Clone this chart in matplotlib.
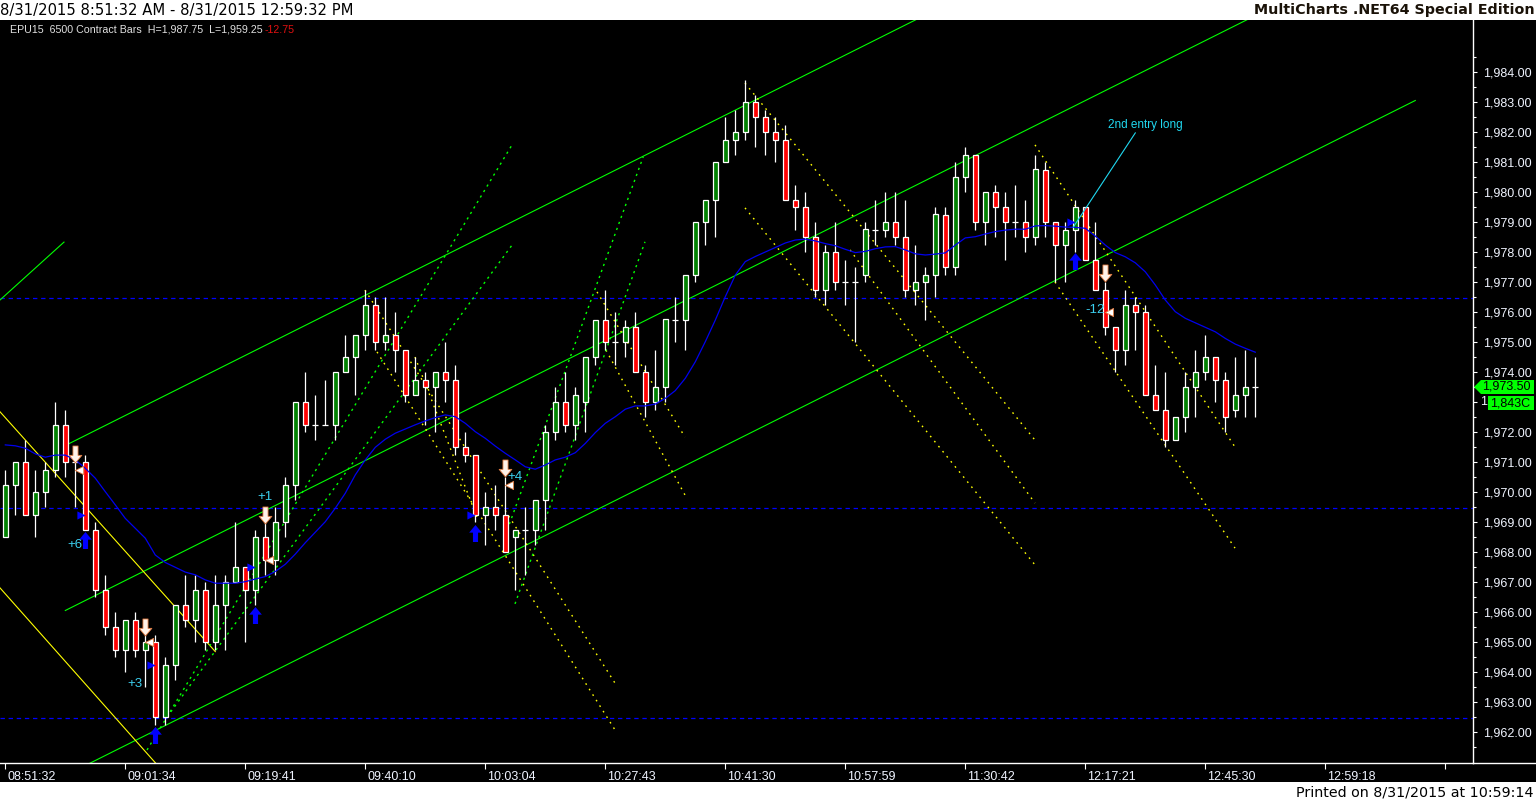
import numpy as np
import matplotlib.pyplot as plt
from matplotlib.path import Path
from matplotlib.patches import Rectangle, Polygon
from matplotlib.lines import Line2D
import matplotlib.transforms as mtransforms

# ---- bar data (EPU15, 6500 contract bars) ----
opens = [1968.5, 1970.25, 1971.0, 1969.25, 1970.0, 1970.75, 1972.25, 1971.0, 1971.0, 1968.75,
         1966.75, 1965.5, 1964.75, 1965.75, 1964.75, 1965.0, 1962.5, 1964.25, 1966.25, 1965.75,
         1966.75, 1965.0, 1966.25, 1967.0, 1967.5, 1966.75, 1968.5, 1967.75, 1969.0, 1970.25,
         1973.0, 1972.25, 1972.25, 1972.25, 1974.0, 1974.5, 1975.25, 1976.25, 1975.0, 1975.25,
         1974.75, 1973.25, 1973.75, 1973.5, 1974.0, 1973.75, 1971.5, 1971.25, 1969.25, 1969.5,
         1969.25, 1968.5, 1968.75, 1968.75, 1969.75, 1972.0, 1973.0, 1972.25, 1973.0, 1974.5,
         1975.75, 1975.0, 1975.0, 1975.5, 1974.0, 1973.0, 1973.5, 1975.75, 1975.75, 1977.25,
         1979.0, 1979.75, 1981.0, 1981.75, 1982.0, 1983.0, 1982.5, 1982.0, 1981.75, 1979.75,
         1979.5, 1978.5, 1976.75, 1978.0, 1977.0, 1977.0, 1977.25, 1978.75, 1978.75, 1979.0,
         1978.5, 1976.75, 1977.0, 1977.25, 1979.25, 1977.5, 1980.5, 1981.25, 1979.0, 1980.0,
         1979.5, 1979.0, 1979.0, 1978.5, 1980.75, 1979.0, 1978.25, 1978.75, 1979.5, 1977.75,
         1976.75, 1975.5, 1974.75, 1976.25, 1976.0, 1973.25, 1972.75, 1971.75, 1972.5, 1973.5,
         1974.0, 1974.5, 1973.75, 1972.75, 1973.25, 1973.5]
highs = [1970.75, 1971.0, 1971.75, 1970.75, 1971.0, 1973.0, 1972.75, 1971.0, 1971.25, 1969.0,
         1967.25, 1966.0, 1965.75, 1966.0, 1965.25, 1965.25, 1964.5, 1966.25, 1967.25, 1967.25,
         1967.0, 1967.25, 1967.25, 1969.0, 1967.5, 1968.75, 1969.0, 1969.5, 1970.5, 1973.0,
         1974.0, 1973.25, 1973.75, 1974.0, 1975.25, 1975.25, 1976.75, 1976.5, 1976.5, 1976.0,
         1974.75, 1974.5, 1974.0, 1974.0, 1975.0, 1974.25, 1972.0, 1971.25, 1970.0, 1970.25,
         1970.5, 1968.75, 1969.5, 1969.75, 1972.25, 1973.5, 1974.0, 1973.5, 1974.5, 1975.75,
         1976.75, 1976.0, 1975.75, 1976.0, 1974.25, 1974.75, 1975.75, 1976.5, 1977.25, 1979.0,
         1979.75, 1981.0, 1982.5, 1982.75, 1983.75, 1983.25, 1982.75, 1982.5, 1982.25, 1980.25,
         1980.0, 1979.0, 1978.25, 1979.0, 1977.75, 1977.5, 1979.0, 1979.75, 1980.0, 1980.0,
         1979.75, 1978.25, 1977.5, 1979.5, 1979.5, 1981.0, 1981.5, 1981.25, 1980.0, 1980.25,
         1980.0, 1980.25, 1979.75, 1981.25, 1981.0, 1979.0, 1979.0, 1979.75, 1979.5, 1979.0,
         1977.0, 1975.5, 1976.75, 1976.5, 1976.25, 1974.25, 1974.0, 1972.5, 1974.0, 1974.75,
         1975.25, 1974.5, 1974.0, 1974.5, 1974.75, 1974.5]
lows = [1968.5, 1969.25, 1969.25, 1968.5, 1969.5, 1970.5, 1970.5, 1969.5, 1968.75, 1966.5,
        1965.25, 1964.5, 1964.0, 1964.5, 1963.5, 1962.25, 1962.25, 1963.75, 1965.5, 1965.0,
        1964.75, 1964.75, 1964.75, 1967.0, 1965.0, 1966.25, 1967.25, 1967.25, 1968.5, 1969.75,
        1972.0, 1971.75, 1972.25, 1971.75, 1974.0, 1973.25, 1974.75, 1974.75, 1974.75, 1974.0,
        1973.0, 1973.25, 1972.25, 1972.0, 1973.0, 1971.25, 1971.0, 1969.0, 1968.25, 1968.75,
        1968.0, 1966.75, 1967.25, 1968.25, 1968.75, 1971.75, 1972.0, 1971.75, 1972.0, 1974.25,
        1974.75, 1974.25, 1974.5, 1974.0, 1972.5, 1972.75, 1973.0, 1975.0, 1974.75, 1977.0,
        1978.25, 1978.5, 1981.0, 1981.25, 1981.75, 1981.5, 1981.25, 1981.0, 1979.75, 1978.75,
        1978.0, 1976.5, 1976.25, 1976.75, 1976.25, 1975.0, 1977.0, 1978.25, 1978.5, 1978.25,
        1976.5, 1976.25, 1975.75, 1976.5, 1977.25, 1977.25, 1980.0, 1978.75, 1978.25, 1978.5,
        1977.75, 1978.5, 1978.0, 1978.25, 1978.5, 1977.0, 1977.0, 1978.0, 1977.75, 1976.75,
        1975.25, 1974.0, 1974.25, 1974.75, 1973.25, 1972.75, 1971.5, 1971.75, 1972.0, 1972.5,
        1973.75, 1973.0, 1972.0, 1972.5, 1972.5, 1972.5]
closes = [1970.25, 1971.0, 1969.25, 1970.0, 1970.75, 1972.25, 1971.0, 1971.0, 1968.75, 1966.75,
          1965.5, 1964.75, 1965.75, 1964.75, 1965.0, 1962.5, 1964.25, 1966.25, 1965.75, 1966.75,
          1965.0, 1966.25, 1967.0, 1967.5, 1966.75, 1968.5, 1967.75, 1969.0, 1970.25, 1973.0,
          1972.25, 1972.25, 1972.25, 1974.0, 1974.5, 1975.25, 1976.25, 1975.0, 1975.25, 1974.75,
          1973.25, 1973.75, 1973.5, 1974.0, 1973.75, 1971.5, 1971.25, 1969.25, 1969.5, 1969.25,
          1968.0, 1968.75, 1968.75, 1969.75, 1972.0, 1973.0, 1972.25, 1973.25, 1974.5, 1975.75,
          1975.0, 1975.0, 1975.5, 1974.0, 1973.0, 1973.5, 1975.75, 1975.75, 1977.25, 1979.0,
          1979.75, 1981.0, 1981.75, 1982.0, 1983.0, 1982.5, 1982.0, 1981.75, 1979.75, 1979.5,
          1978.5, 1976.75, 1978.0, 1977.0, 1977.0, 1977.0, 1978.75, 1978.75, 1979.0, 1978.5,
          1976.75, 1977.0, 1977.25, 1979.25, 1977.5, 1980.5, 1981.25, 1979.0, 1980.0, 1979.5,
          1979.0, 1979.0, 1978.5, 1980.75, 1979.0, 1978.25, 1978.75, 1979.5, 1977.75, 1976.75,
          1975.5, 1974.75, 1976.25, 1976.0, 1973.25, 1972.75, 1971.75, 1972.5, 1973.5, 1974.0,
          1974.5, 1973.75, 1972.5, 1973.25, 1973.5, 1973.5]

# moving average (blue line), read per bar
ma = [1971.57, 1971.54, 1971.46, 1971.27, 1971.16, 1971.23, 1971.23, 1971.07, 1970.79, 1970.46,
      1970.01, 1969.57, 1969.12, 1968.79, 1968.46, 1967.9, 1967.65, 1967.49, 1967.33, 1967.24,
      1967.07, 1966.96, 1966.96, 1966.96, 1967.01, 1967.1, 1967.18, 1967.35, 1967.59, 1967.93,
      1968.31, 1968.66, 1969.01, 1969.46, 1969.96, 1970.57, 1971.07, 1971.49, 1971.76, 1971.96,
      1972.1, 1972.24, 1972.37, 1972.48, 1972.57, 1972.51, 1972.29, 1972.01, 1971.79, 1971.53,
      1971.29, 1971.07, 1970.84, 1970.76, 1970.9, 1971.07, 1971.16, 1971.31, 1971.62, 1971.98,
      1972.29, 1972.51, 1972.76, 1972.87, 1972.87, 1972.93, 1973.12, 1973.38, 1973.79, 1974.34,
      1975.01, 1975.73, 1976.51, 1977.23, 1977.68, 1977.85, 1978.0, 1978.15, 1978.3, 1978.4,
      1978.43, 1978.37, 1978.28, 1978.21, 1978.09, 1977.98, 1978.02, 1978.11, 1978.17, 1978.18,
      1978.07, 1977.94, 1977.9, 1977.93, 1977.97, 1978.23, 1978.47, 1978.51, 1978.6, 1978.68,
      1978.73, 1978.76, 1978.76, 1978.87, 1978.88, 1978.86, 1978.83, 1978.82, 1978.79, 1978.53,
      1978.23, 1977.98, 1977.84, 1977.64, 1977.34, 1976.9, 1976.4, 1976.01, 1975.79, 1975.64,
      1975.49, 1975.34, 1975.12, 1974.93, 1974.79, 1974.66]

time_labels = ["08:51:32", "09:01:34", "09:19:41", "09:40:10", "10:03:04", "10:27:43",
               "10:41:30", "10:57:59", "11:30:42", "12:17:21", "12:45:30", "12:59:18", ""]
label_every = 12

# horizontal levels (blue dotted)
levels = [1976.46, 1969.46, 1962.46]

# channel lines: ((bar0, price0), (bar1, price1))
green_lines = [((6, 1971.55), (92, 1985.9)),
               ((6, 1966.05), (125, 1985.88)),
               ((6, 1960.55), (141, 1983.05)),
               ((-0.53, 1976.4), (5.87, 1978.33))]
yellow_lines = [((-0.6, 1972.7), (21.0, 1964.68)),
                ((-0.6, 1966.83), (16.0, 1960.6))]
yellow_dotted = [((35.97, 1976.73), (60.97, 1963.63)),
                 ((37.17, 1974.67), (60.97, 1962.07)),
                 ((40.97, 1974.5), (47.27, 1969.07)),
                 ((59.17, 1976.67), (67.97, 1971.83)),
                 ((60.07, 1974.73), (67.97, 1969.9)),
                 ((73.97, 1983.63), (102.97, 1971.73)),
                 ((73.97, 1979.47), (102.97, 1967.57)),
                 ((84.47, 1978.07), (102.97, 1969.63)),
                 ((102.97, 1981.57), (122.97, 1971.5)),
                 ((104.97, 1977.0), (122.97, 1968.13))]
green_dotted = [((14.17, 1961.4), (50.67, 1981.57)),
                ((16.17, 1962.5), (50.67, 1978.23)),
                ((49.97, 1968.53), (63.8, 1981.18)),
                ((50.97, 1966.27), (63.97, 1978.34))]

# trade markers
long_bars = [8, 15, 25, 47, 107]
long_arrow_px = [1968.4, 1961.9, 1965.9, 1968.64, 1977.7]
entry_px = [1969.25, 1964.25, 1967.5, 1969.25, 1979.0]
exit_bars = [7, 14, 26, 50, 110]
exit_arrow_px = [1971.27, 1965.51, 1969.23, 1970.79, 1977.29]
exit_px = [1970.75, 1965.0, 1967.75, 1970.25, 1976.0]
pnl_text = ["+6", "+3", "+1", "+4", "-12"]
pnl_bars = [7, 13, 26, 51, 109]
pnl_px = [1968.23, 1963.6, 1969.83, 1970.5, 1976.07]

note_text = "2nd entry long"
note_xy = (114, 1982.23)
note_line = ((106.8, 1978.83), (113.0, 1981.97))

W, H = 1536, 801
fig = plt.figure(figsize=(W / 100, H / 100), dpi=100)
fig.patch.set_facecolor('white')

# black chart background
fig.add_artist(Rectangle((0, 1 - 782 / H), 1, (782 - 20) / H, transform=fig.transFigure,
                         facecolor='black', edgecolor='none', zorder=-5))

ax = fig.add_axes([0, 1 - 763 / H, 1473 / W, (763 - 20) / H])
ax.set_facecolor('black')
ax.set_xlim(-0.53, 146.77)
ax.set_ylim(1984 - 691 / 30, 1984 + 52 / 30)

for s in ['left', 'top']:
    ax.spines[s].set_visible(False)
for s in ['right', 'bottom']:
    ax.spines[s].set_color('white')
    ax.spines[s].set_linewidth(1.0)
# bottom line continues under the price scale
fig.add_artist(Line2D([1473 / W, 1], [1 - 763 / H, 1 - 763 / H], transform=fig.transFigure,
                      color='white', lw=1.0))

n = len(closes)
x = np.arange(n)

# reference levels and lines
for lv in levels:
    ax.axhline(lv, color='#0000ff', lw=0.9, ls=(0, (3.5, 3)), zorder=1)
for (a, b) in green_lines:
    ax.plot([a[0], b[0]], [a[1], b[1]], color='#00ff00', lw=0.8, zorder=2)
for (a, b) in yellow_lines:
    ax.plot([a[0], b[0]], [a[1], b[1]], color='#ffff00', lw=0.8, zorder=2)
for (a, b) in yellow_dotted:
    ax.plot([a[0], b[0]], [a[1], b[1]], color='#ffff00', lw=1.0, ls=(0, (1.2, 3.5)), zorder=2)
for (a, b) in green_dotted:
    ax.plot([a[0], b[0]], [a[1], b[1]], color='#00ff00', lw=1.0, ls=(0, (1.6, 3.0)), zorder=2)

ax.plot(x, ma, color='#0000ee', lw=0.9, zorder=5)

# candles
ax.vlines(x, lows, highs, color='white', lw=0.9, zorder=3)
o = np.array(opens)
c = np.array(closes)
up = c > o
dn = c < o
flat = c == o
ax.bar(x[up], (c - o)[up], bottom=o[up], width=0.46, color='#008000',
       edgecolor='white', linewidth=0.9, zorder=4)
ax.bar(x[dn], (c - o)[dn], bottom=o[dn], width=0.46, color='#ff0000',
       edgecolor='white', linewidth=0.9, zorder=4)
ax.hlines(o[flat], x[flat] - 0.28, x[flat] + 0.28, color='white', lw=0.9, zorder=4)

# markers
up_arrow = Path([(0, 1), (-0.75, 0.1), (-0.3, 0.1), (-0.3, -1), (0.3, -1), (0.3, 0.1),
                 (0.75, 0.1), (0, 1)], [1, 2, 2, 2, 2, 2, 2, 79])
down_arrow = Path([(0, -1), (-0.75, -0.1), (-0.3, -0.1), (-0.3, 1), (0.3, 1), (0.3, -0.1),
                   (0.75, -0.1), (0, -1)], [1, 2, 2, 2, 2, 2, 2, 79])
ax.scatter(long_bars, long_arrow_px, marker=up_arrow, s=150, color='#0000ff', zorder=6,
           linewidths=0)
ax.scatter(np.array(long_bars) - 0.45, entry_px, marker='>', s=35, color='#0000ff', zorder=6,
           linewidths=0)
ax.scatter(exit_bars, exit_arrow_px, marker=down_arrow, s=150, facecolor='#fff2ea',
           edgecolor='#e07a40', linewidths=0.6, zorder=6)
ax.scatter(np.array(exit_bars) + 0.35, exit_px, marker='<', s=35, facecolor='white',
           edgecolor='#e07a40', linewidths=0.6, zorder=6)
for t, bx, py in zip(pnl_text, pnl_bars, pnl_px):
    ax.text(bx, py, t, color='#3cd0f0', fontsize=9.5, ha='center', va='center',
            family='Liberation Sans', zorder=7)

ax.plot([note_line[0][0], note_line[1][0]], [note_line[0][1], note_line[1][1]],
        color='#20d8f0', lw=0.8, zorder=6)
ax.text(note_xy[0], note_xy[1], note_text, color='#20d8f0', fontsize=8.5,
        ha='center', va='center', family='Liberation Sans', zorder=7)

# axes ticks
ax.yaxis.tick_right()
yt = np.arange(1962, 1985, 1.0)
ax.set_yticks(yt)
ax.set_yticks(np.arange(1961.5, 1985, 1.0), minor=True)
# the 1,973.00 label sits under the volume tag; only its first digit shows
ax.set_yticklabels(['' if v == 1973 else '{:,.2f}'.format(v) for v in yt])
ax.tick_params(axis='y', which='both', colors='white', direction='out', length=3,
               width=0.8, pad=4, labelsize=9, labelcolor='#f0f4ff')
ax.tick_params(axis='y', which='minor', length=2)
ticks_x = np.arange(0, label_every * len(time_labels), label_every)
ax.set_xticks(ticks_x)
ax.set_xticklabels(time_labels)
ax.tick_params(axis='x', colors='white', direction='out', length=4, width=0.8, pad=1.5,
               labelsize=9, labelcolor='#f0f4ff')
shift = mtransforms.ScaledTranslation(2 / 100, 0, fig.dpi_scale_trans)
for lab in ax.get_xticklabels() + ax.get_yticklabels():
    lab.set_family('Liberation Sans')
for lab in ax.get_xticklabels():
    lab.set_ha('left')
    lab.set_transform(lab.get_transform() + shift)

# title bar and footer
fig.text(0.5 / W, 1 - 10 / H, "8/31/2015 8:51:32 AM - 8/31/2015 12:59:32 PM",
         fontsize=10.6, family='DejaVu Sans', va='center', ha='left', color='black')
fig.text(1 - 1 / W, 1 - 10 / H, "MultiCharts .NET64 Special Edition", fontsize=10.3,
         family='DejaVu Sans', weight='bold', va='center', ha='right', color='#1a1208')
fig.text(1 - 2 / W, 1 - 792 / H, "Printed on 8/31/2015 at 10:59:14", fontsize=10.3,
         family=['Liberation Sans Narrow', 'DejaVu Sans'], va='center', ha='right',
         color='black')

# legend text in top-left corner
fig.text(10 / W, 1 - 30 / H, "EPU15  6500 Contract Bars  H=1,987.75  L=1,959.25",
         fontsize=7.7, family='Liberation Sans', va='center', ha='left', color='#e0e0e0')
fig.text(265 / W, 1 - 30 / H, "-12.75", fontsize=7.7, family='Liberation Sans',
         va='center', ha='left', color='#e01010')

# last price tags on the scale
fig.canvas.draw()
ylast = ax.transData.transform((0, closes[-1]))[1]
tag = Polygon([(1474, ylast), (1481, ylast + 7), (1534, ylast + 7), (1534, ylast - 7),
               (1481, ylast - 7)], closed=True, transform=None, facecolor='#00ff00',
              edgecolor='none', zorder=10)
fig.add_artist(tag)
fig.text(1482 / W, ylast / H, '{:,.2f}'.format(closes[-1]), fontsize=9,
         family='Liberation Sans', va='center', ha='left', color='black', zorder=11)
y1973 = ax.transData.transform((0, 1973))[1]
fig.text(1480 / W, y1973 / H, '1', fontsize=9, family='Liberation Sans',
         va='center', ha='left', color='#f0f4ff')
fig.add_artist(Rectangle((1488, ylast - 23), 46, 14, transform=None, facecolor='#00ff00',
                         edgecolor='none', zorder=10))
fig.text(1490 / W, (ylast - 16) / H, '1,843C', fontsize=9, family='Liberation Sans',
         va='center', ha='left', color='black', zorder=11)

fig.savefig('out.png', dpi=100, facecolor='white')
